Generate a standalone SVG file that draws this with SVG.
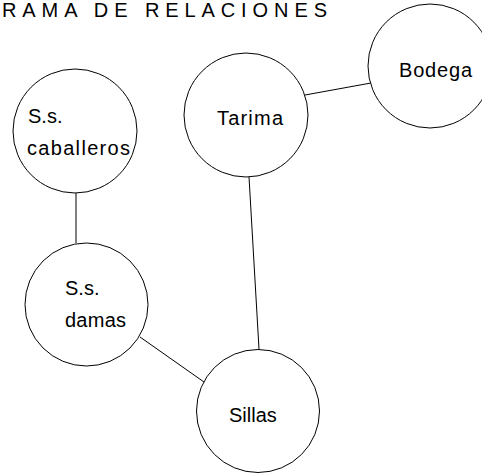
<svg xmlns="http://www.w3.org/2000/svg" width="482" height="474" viewBox="0 0 482 474">
<style>
.node{fill:#fff;stroke:#000;stroke-width:1}
.lbl{font-family:"Liberation Sans","DejaVu Sans",sans-serif;font-size:20px;fill:#000}
.edge{stroke:#000;stroke-width:1;fill:none}
.title{font-family:"Liberation Sans","DejaVu Sans",sans-serif;font-size:20px;fill:#000}
</style>
<rect width="482" height="474" fill="#fff"/>
<text class="title" x="2" y="17" textLength="325" lengthAdjust="spacing">RAMA DE RELACIONES</text>
<g id="connectors">
<line class="edge" x1="305" y1="95" x2="371" y2="83"/>
<line class="edge" x1="249" y1="177" x2="259" y2="349"/>
<line class="edge" x1="76" y1="193" x2="76" y2="243"/>
<line class="edge" x1="140" y1="337" x2="204" y2="382"/>
</g>
<g id="tarima">
<circle class="node" cx="246" cy="115" r="62"/>
<text class="lbl" x="217" y="125" textLength="66">Tarima</text>
</g>
<g id="bodega">
<circle class="node" cx="430" cy="66" r="62"/>
<text class="lbl" x="399" y="77" textLength="73">Bodega</text>
</g>
<g id="caballeros">
<circle class="node" cx="75" cy="131" r="62"/>
<text class="lbl" x="28" y="123">S.s.</text>
<text class="lbl" x="27" y="155" textLength="103">caballeros</text>
</g>
<g id="damas">
<circle class="node" cx="86.5" cy="304.5" r="61.5"/>
<text class="lbl" x="65" y="295">S.s.</text>
<text class="lbl" x="65" y="327" textLength="61">damas</text>
</g>
<g id="sillas">
<circle class="node" cx="258" cy="411" r="61.5"/>
<text class="lbl" x="229" y="422" font-size="22">Sillas</text>
</g>
</svg>
